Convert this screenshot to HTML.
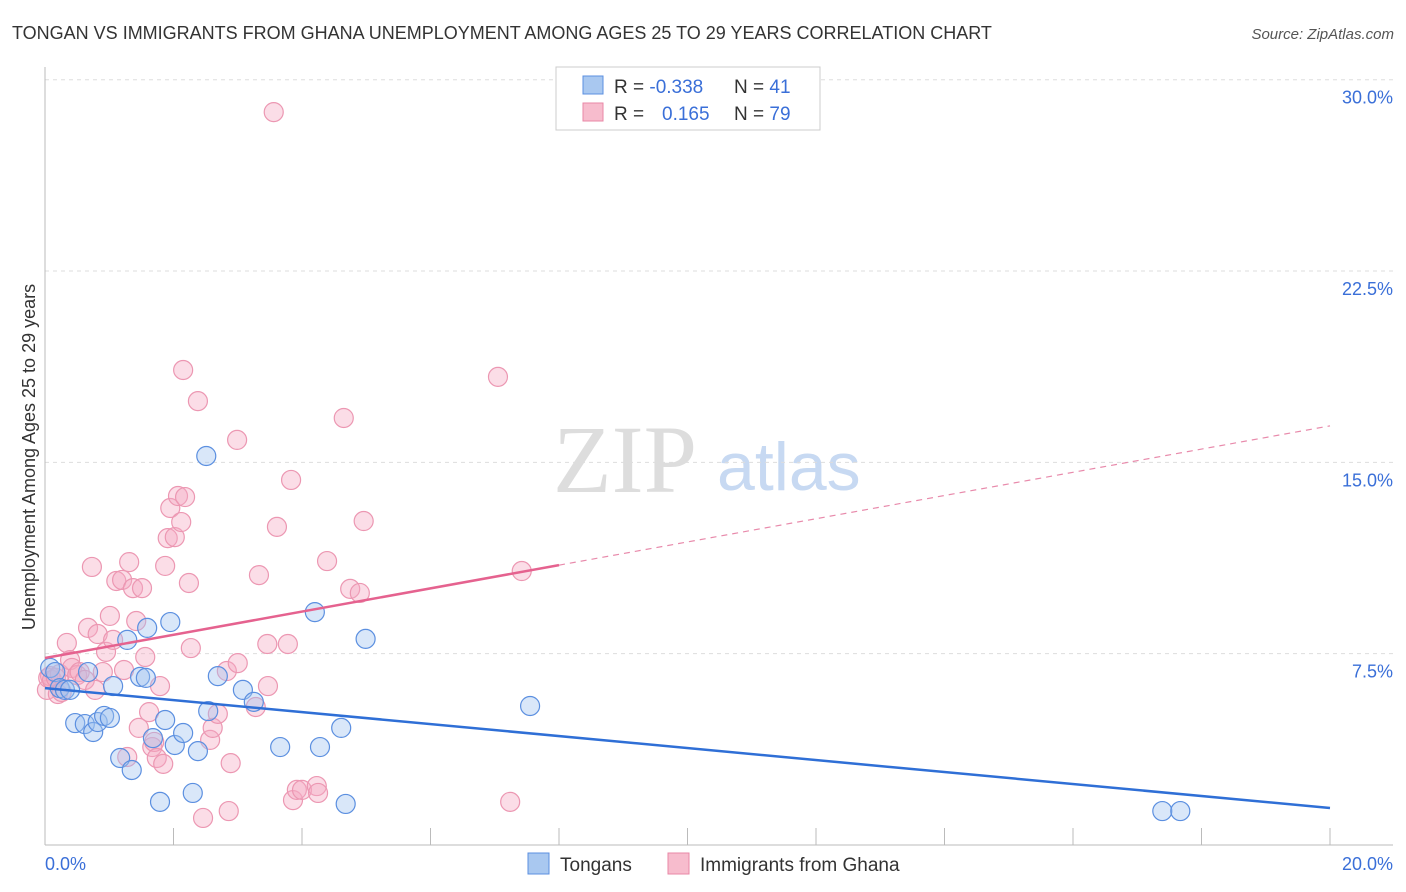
<!DOCTYPE html>
<html><head><meta charset="utf-8"><style>
body{margin:0;background:#fff;font-family:"Liberation Sans",sans-serif}
svg{display:block}
</style></head><body>
<svg id="chart" width="1406" height="892">
<text x="12" y="39" font-size="18" fill="#333">TONGAN VS IMMIGRANTS FROM GHANA UNEMPLOYMENT AMONG AGES 25 TO 29 YEARS CORRELATION CHART</text>
<text x="1394" y="39" font-size="15" fill="#555" font-style="italic" text-anchor="end">Source: ZipAtlas.com</text>
<g>
<text x="553" y="492" font-family="Liberation Serif,serif" font-size="96" fill="#ddd">ZIP</text>
<text x="717" y="490" font-size="68" fill="#c7d9f2">atlas</text>
</g>
<g id="grid"></g>
<g id="axes"></g>
<g id="pts"></g>
<g id="trend"></g>
<text transform="translate(35,457) rotate(-90)" text-anchor="middle" font-size="18" fill="#333">Unemployment Among Ages 25 to 29 years</text>
<g>
<rect x="556" y="67" width="264" height="63" fill="#fff" stroke="#ccc"/>
<rect x="583" y="76" width="20" height="18" fill="#a9c8f0" stroke="#5b8fe0"/>
<rect x="583" y="103" width="20" height="18" fill="#f7bccd" stroke="#e887a6"/>
<text x="614" y="93" font-size="19" fill="#333">R = <tspan fill="#3a6fd8">-0.338</tspan><tspan x="734">N = </tspan><tspan fill="#3a6fd8">41</tspan></text>
<text x="614" y="120" font-size="19" fill="#333">R = <tspan x="662" fill="#3a6fd8">0.165</tspan><tspan x="734">N = </tspan><tspan fill="#3a6fd8">79</tspan></text>
</g>
<g>
<rect x="528" y="853" width="21" height="21" fill="#a9c8f0" stroke="#5b8fe0"/>
<text x="560" y="871" font-size="19" fill="#333">Tongans</text>
<rect x="668" y="853" width="21" height="21" fill="#f7bccd" stroke="#e887a6"/>
<text x="700" y="871" font-size="19" fill="#333">Immigrants from Ghana</text>
</g>
</svg>
<script>
const yTicks=[7.5,15,22.5,30];
const yTickLabels=["7.5%","15.0%","22.5%","30.0%"];
const xTicks=[0,2,4,6,8,10,12,14,16,18,20];
const xEndLabels=["0.0%","20.0%"];
const blueX=[.08,.16,.23,.31,.39,.47,.62,.67,.75,.82,.92,1.01,1.06,1.17,1.28,1.35,1.48,1.57,1.59,1.68,1.79,1.87,1.95,2.02,2.15,2.30,2.38,2.51,2.54,2.69,3.08,3.25,3.66,4.20,4.28,4.61,4.68,4.99,7.55,17.39,17.67];
const blueY=[6.94,6.78,6.15,6.08,6.08,4.78,4.74,6.78,4.43,4.82,5.06,4.98,6.23,3.41,8.04,2.94,6.59,6.55,8.51,4.19,1.69,4.90,8.74,3.92,4.39,2.04,3.68,15.25,5.25,6.62,6.08,5.61,3.84,9.13,3.84,4.59,1.61,8.08,5.45,1.33,1.33];
const pinkX=[.03,.05,.08,.11,.17,.20,.23,.26,.34,.39,.42,.50,.54,.62,.67,.73,.78,.82,.90,.95,1.01,1.06,1.11,1.20,1.23,1.28,1.31,1.37,1.42,1.46,1.51,1.56,1.62,1.67,1.70,1.74,1.79,1.84,1.87,1.91,1.95,2.02,2.07,2.12,2.15,2.18,2.24,2.27,2.38,2.46,2.57,2.61,2.69,2.83,2.86,2.89,2.99,3.00,3.28,3.33,3.46,3.47,3.56,3.61,3.78,3.83,3.86,3.92,4.00,4.23,4.25,4.39,4.65,4.75,4.90,4.96,7.05,7.24,7.42];
const pinkY=[6.08,6.55,6.62,6.47,6.55,5.92,6.70,6.00,7.92,7.25,6.94,6.66,6.78,6.47,8.51,10.90,6.08,8.27,6.78,7.57,8.98,8.04,10.35,10.39,6.86,3.45,11.09,10.07,8.78,4.59,10.07,7.37,5.21,3.84,4.04,3.41,6.23,3.18,10.94,12.03,13.21,12.07,13.68,12.66,18.62,13.64,10.27,7.72,17.40,1.06,4.12,4.59,5.14,6.82,1.33,3.21,15.88,7.13,5.41,10.58,7.88,6.23,28.73,12.47,7.88,14.31,1.76,2.16,2.16,2.31,2.04,11.13,16.74,10.04,9.88,12.70,18.35,1.69,10.74];
const blueTrend=[6.15,1.45];   // y at x=0 and x=20
const pinkTrend=[7.33,16.43];  // y at x=0 and x=20
const pinkSolidEnd=8;

const NS="http://www.w3.org/2000/svg";
const X=v=>45+v*64.25, Y=v=>845-v*25.51;
function mk(tag,attrs,parent){const e=document.createElementNS(NS,tag);for(const k in attrs)e.setAttribute(k,attrs[k]);parent.appendChild(e);return e;}
const grid=document.getElementById('grid'),axes=document.getElementById('axes'),pts=document.getElementById('pts'),trend=document.getElementById('trend');
yTicks.forEach((t,i)=>{
 const l=mk('line',{x1:45,x2:1393,y1:Y(t),y2:Y(t),stroke:'#ddd','stroke-dasharray':'4,4'},grid);
 
 
 const tx=mk('text',{x:1393,y:Y(t)+24,'text-anchor':'end','font-size':18,fill:'#3a6fd8'},axes);
 tx.textContent=yTickLabels[i];
 
 
});
mk('line',{x1:45,x2:45,y1:67,y2:845,stroke:'#bbb'},axes);
mk('line',{x1:45,x2:1393,y1:845,y2:845,stroke:'#bbb'},axes);
xTicks.forEach(t=>{
 const l=mk('line',{x1:X(t),x2:X(t),y1:828,y2:845,stroke:'#bbb'},axes);
 
 
});
const xl0=mk('text',{x:45,y:870,'font-size':18,fill:'#3a6fd8'},axes);xl0.textContent=xEndLabels[0];


const xl1=mk('text',{x:1393,y:870,'font-size':18,fill:'#3a6fd8','text-anchor':'end'},axes);xl1.textContent=xEndLabels[1];


pinkX.forEach((x,i)=>{
 const c=mk('circle',{cx:X(x),cy:Y(pinkY[i]),r:9.5,fill:'rgba(245,170,195,0.4)',stroke:'#ec97b2','stroke-width':1.2},pts);
 
 
});
blueX.forEach((x,i)=>{
 const c=mk('circle',{cx:X(x),cy:Y(blueY[i]),r:9.5,fill:'rgba(160,195,240,0.4)',stroke:'#5b8fe0','stroke-width':1.2},pts);
 
 
});
const bl=mk('line',{x1:X(0),y1:Y(blueTrend[0]),x2:X(20),y2:Y(blueTrend[1]),stroke:'#2f6fd6','stroke-width':2.5},trend);


const pAt=x=>pinkTrend[0]+(pinkTrend[1]-pinkTrend[0])*x/20;
const pl=mk('line',{x1:X(0),y1:Y(pAt(0)),x2:X(pinkSolidEnd),y2:Y(pAt(pinkSolidEnd)),stroke:'#e5628f','stroke-width':2.5},trend);


const pd=mk('line',{x1:X(pinkSolidEnd),y1:Y(pAt(pinkSolidEnd)),x2:X(20),y2:Y(pAt(20)),stroke:'#e88aab','stroke-width':1.2,'stroke-dasharray':'6,5'},trend);


</script>
</body></html>
